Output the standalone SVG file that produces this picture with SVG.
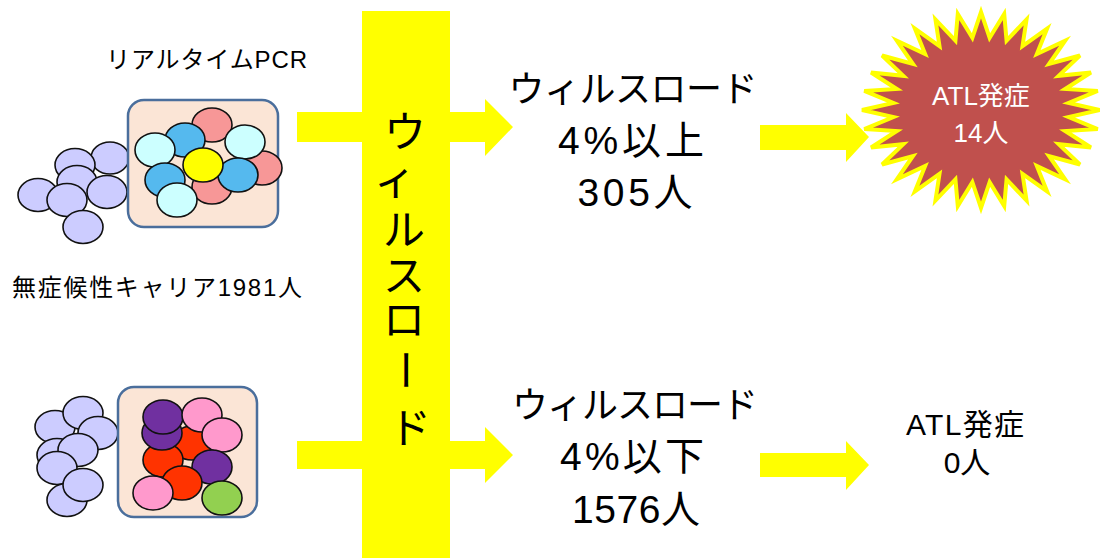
<svg xmlns="http://www.w3.org/2000/svg" width="1100" height="558" viewBox="0 0 1100 558">
  <defs>
    <style>
      text { font-family: "Liberation Sans", "Noto Sans CJK JP", sans-serif; fill: #000; }
      .cell { stroke: #111; stroke-width: 1.6; }
      .lav { fill: #CCCCFF; }
      .pink { fill: #F79797; }
      .blue { fill: #55B9EE; }
      .cyan { fill: #CCFFFF; }
      .yel { fill: #FFFF00; }
      .pur { fill: #7030A0; }
      .red { fill: #FF3300; }
      .rose { fill: #FF99CC; }
      .grn { fill: #92D050; }
      .box { fill: #FBE5D6; stroke: #4A6E9C; stroke-width: 2.5; }
      .arrow { fill: #FFFF00; }
      .big { font-size: 36px; text-anchor: middle; }
      .num { font-size: 39px; text-anchor: middle; }
      .vert { font-size: 42px; text-anchor: middle; }
      .small { font-size: 24px; }
      .atl { font-size: 26px; text-anchor: middle; }
      .atl2 { font-size: 30px; text-anchor: middle; }
    </style>
  </defs>

  <!-- connectors: arrows passing behind the central bar, and result arrows -->
  <g id="connectors">
    <polygon class="arrow" points="297,112 485,112 485,99 513,127 485,156 485,142 297,142"/>
    <polygon class="arrow" points="297,441 485,441 485,427 513,455 485,483 485,469 297,469"/>
    <polygon class="arrow" points="760,125 846,125 846,113 869,137 846,162 846,150 760,150"/>
    <polygon class="arrow" points="760,453 846,453 846,441 869,465 846,490 846,477 760,477"/>
  </g>

  <!-- central bar with vertical label -->
  <g id="viral-load-bar">
    <rect x="362" y="11" width="88" height="547" fill="#FFFF00"/>
    <text class="vert" x="405" y="147">ウ</text>
    <text class="vert" x="395" y="195">ィ</text>
    <text class="vert" x="404" y="245">ル</text>
    <text class="vert" x="404" y="291">ス</text>
    <text class="vert" x="404" y="335">ロ</text>
    <text class="vert" x="405" y="385" transform="rotate(90 405 370)">ー</text>
    <text class="vert" x="410" y="443">ド</text>
  </g>

  <!-- caption: real-time PCR -->
  <g id="pcr-label">
    <text class="small" x="106" y="68" textLength="201">リアルタイムPCR</text>
  </g>

  <!-- upper cell group -->
  <g id="cells-high">
    <ellipse class="cell lav" cx="110" cy="158" rx="19" ry="16"/>
    <ellipse class="cell lav" cx="75" cy="165" rx="20" ry="16.5"/>
    <ellipse class="cell lav" cx="77" cy="182" rx="20" ry="16.5"/>
    <ellipse class="cell lav" cx="38" cy="195" rx="20" ry="16.5"/>
    <ellipse class="cell lav" cx="107" cy="192" rx="20" ry="16.5"/>
    <ellipse class="cell lav" cx="67" cy="200" rx="20" ry="16.5"/>
    <ellipse class="cell lav" cx="83" cy="227" rx="20" ry="16.5"/>
    <rect class="box" x="128" y="100" width="150" height="127" rx="16" ry="16"/>
    <ellipse class="cell pink" cx="212" cy="125" rx="20" ry="17"/>
    <ellipse class="cell pink" cx="262" cy="168" rx="20" ry="17"/>
    <ellipse class="cell pink" cx="212" cy="187" rx="20" ry="17"/>
    <ellipse class="cell blue" cx="185" cy="140" rx="20" ry="17"/>
    <ellipse class="cell cyan" cx="155" cy="150" rx="20" ry="17"/>
    <ellipse class="cell blue" cx="165" cy="180" rx="20" ry="17"/>
    <ellipse class="cell cyan" cx="245" cy="142" rx="20" ry="17"/>
    <ellipse class="cell blue" cx="238" cy="175" rx="20" ry="17"/>
    <ellipse class="cell yel" cx="203" cy="165" rx="20" ry="17"/>
    <ellipse class="cell cyan" cx="177" cy="200" rx="20" ry="17"/>
  </g>

  <!-- caption: asymptomatic carriers -->
  <g id="carrier-label">
    <text class="small" x="12" y="296" textLength="290">無症候性キャリア1981人</text>
  </g>

  <!-- lower cell group -->
  <g id="cells-low">
    <ellipse class="cell lav" cx="55" cy="427" rx="20" ry="16.5"/>
    <ellipse class="cell lav" cx="83" cy="413" rx="20" ry="16.5"/>
    <ellipse class="cell lav" cx="98" cy="433" rx="20" ry="16.5"/>
    <ellipse class="cell lav" cx="57" cy="455" rx="20" ry="16.5"/>
    <ellipse class="cell lav" cx="78" cy="450" rx="20" ry="16.5"/>
    <ellipse class="cell lav" cx="57" cy="468" rx="20" ry="16.5"/>
    <ellipse class="cell lav" cx="67" cy="500" rx="20" ry="16.5"/>
    <ellipse class="cell lav" cx="83" cy="485" rx="20" ry="16.5"/>
    <rect class="box" x="118" y="387" width="139" height="130" rx="16" ry="16"/>
    <ellipse class="cell red" cx="192" cy="443" rx="20" ry="17"/>
    <ellipse class="cell red" cx="163" cy="460" rx="20" ry="17"/>
    <ellipse class="cell pur" cx="162" cy="433" rx="20" ry="17"/>
    <ellipse class="cell pur" cx="163" cy="417" rx="20" ry="17"/>
    <ellipse class="cell rose" cx="202" cy="415" rx="20" ry="17"/>
    <ellipse class="cell rose" cx="222" cy="435" rx="20" ry="17"/>
    <ellipse class="cell pur" cx="212" cy="467" rx="20" ry="17"/>
    <ellipse class="cell red" cx="182" cy="483" rx="20" ry="17"/>
    <ellipse class="cell rose" cx="153" cy="493" rx="20" ry="17"/>
    <ellipse class="cell grn" cx="222" cy="498" rx="20" ry="17"/>
  </g>

  <!-- high viral load group -->
  <g id="high-load">
    <text class="big" x="633" y="102" textLength="249">ウィルスロード</text>
    <text class="num" x="631" y="154" textLength="146">4%以上</text>
    <text class="num" x="635" y="206" textLength="115">305人</text>
  </g>

  <!-- low viral load group -->
  <g id="low-load">
    <text class="big" x="635" y="418" textLength="246">ウィルスロード</text>
    <text class="num" x="632" y="470" textLength="144">4%以下</text>
    <text class="num" x="636" y="523" textLength="128">1576人</text>
  </g>

  <!-- onset burst -->
  <g id="onset-high">
    <polygon transform="translate(981 110) scale(119 98)" vector-effect="non-scaling-stroke"
      fill="#C0504D" stroke="#FFFF00" stroke-width="4" stroke-linejoin="miter"
      points="0,-1 .0725,-.7364 .1951,-.9808 .2148,-.7081 .3827,-.9239 .3488,-.6526 .5556,-.8315 .4694,-.5720 .7071,-.7071 .5720,-.4694 .8315,-.5556 .6526,-.3488 .9239,-.3827 .7081,-.2148 .9808,-.1951 .7364,-.0725 1,0 .7364,.0725 .9808,.1951 .7081,.2148 .9239,.3827 .6526,.3488 .8315,.5556 .5720,.4694 .7071,.7071 .4694,.5720 .5556,.8315 .3488,.6526 .3827,.9239 .2148,.7081 .1951,.9808 .0725,.7364 0,1 -.0725,.7364 -.1951,.9808 -.2148,.7081 -.3827,.9239 -.3488,.6526 -.5556,.8315 -.4694,.5720 -.7071,.7071 -.5720,.4694 -.8315,.5556 -.6526,.3488 -.9239,.3827 -.7081,.2148 -.9808,.1951 -.7364,.0725 -1,0 -.7364,-.0725 -.9808,-.1951 -.7081,-.2148 -.9239,-.3827 -.6526,-.3488 -.8315,-.5556 -.5720,-.4694 -.7071,-.7071 -.4694,-.5720 -.5556,-.8315 -.3488,-.6526 -.3827,-.9239 -.2148,-.7081 -.1951,-.9808 -.0725,-.7364"/>
    <text class="atl" x="981" y="105" style="fill:#FFFFFF">ATL発症</text>
    <text class="atl" x="981" y="142" style="fill:#FFFFFF">14人</text>
  </g>

  <!-- no onset -->
  <g id="onset-low">
    <text class="atl2" x="965" y="435" textLength="118">ATL発症</text>
    <text class="atl2" x="967" y="473">0人</text>
  </g>
</svg>
